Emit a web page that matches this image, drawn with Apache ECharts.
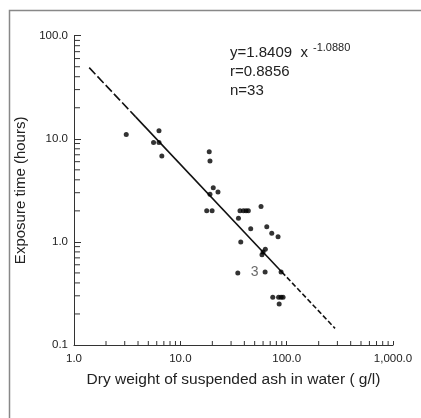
<!DOCTYPE html>
<html>
<head>
<meta charset="utf-8">
<script src="https://cdn.jsdelivr.net/npm/echarts@6/dist/echarts.min.js"></script>
<style>
html,body{margin:0;padding:0;background:#fff;overflow:hidden;}
#c{width:421px;height:418px;}
</style>
</head>
<body>
<div id="c"></div>
<script>
// Observed points: [dry weight (g/l), exposure time (hours)]
const points = [
  [3.1, 11], [5.6, 9.2], [6.3, 9.2], [6.3, 12], [6.7, 6.8],
  [18.7, 7.5], [19, 6.1], [19, 2.9], [20.4, 3.35], [22.6, 3.05],
  [17.7, 2.0], [19.9, 2.0], [34.7, 0.5], [35.2, 1.7], [37, 1.0],
  [36.4, 2.0], [39.2, 2.0], [41.5, 2.0], [43.6, 2.0], [45.9, 1.34],
  [57.4, 2.2], [65, 1.4], [72.4, 1.21], [83, 1.12],
  [63, 0.85], [60, 0.80], [58.6, 0.75],
  [62.7, 0.51], [88.6, 0.51],
  [74, 0.29], [84, 0.29], [88.6, 0.29], [92.5, 0.29], [85, 0.25]
];
// point that carries the "3" annotation (index into points)
const labelledIndex = 27;
const labelText = '3';

// Fitted line (dashed extrapolations, solid middle)
const fitUpperDashed = [[1.39, 49], [3.8, 16.3]];
const fitSolid = [[3.8, 16.3], [90, 0.511]];
const fitLowerDashed = [[90, 0.511], [285, 0.145]];

const xMinorTicks = [2,3,4,5,6,7,8,9,20,30,40,50,60,70,80,90,200,300,400,500,600,700,800,900];
const yMinorTicks = [0.2,0.3,0.4,0.5,0.6,0.7,0.8,0.9,2,3,4,5,6,7,8,9,20,30,40,50,60,70,80,90];

const eqLines = ['y=1.8409  x', 'r=0.8856', 'n=33'];
const eqExponent = '-1.0880';

const FONT = '"Liberation Sans", Arial, sans-serif';
const TXT = '#222';

const chart = echarts.init(document.getElementById('c'), null, {renderer: 'canvas'});

const scatterData = points.map((p, i) => {
  if (i === labelledIndex) {
    return {value: p, label: {show: true, position: 'left', distance: 4, formatter: labelText,
      color: '#444', fontSize: 14, fontFamily: FONT}};
  }
  return {value: p};
});

function tickSeries(vals, isX) {
  return {
    type: 'custom',
    silent: true,
    clip: false,
    data: vals.map(v => isX ? [v, 0.1] : [1, v]),
    renderItem: function (params, api) {
      const pt = api.coord([api.value(0), api.value(1)]);
      const shape = isX
        ? {x1: pt[0], y1: pt[1], x2: pt[0], y2: pt[1] - 4}
        : {x1: pt[0], y1: pt[1], x2: pt[0] + 6, y2: pt[1]};
      return {type: 'line', shape: shape, style: {stroke: '#333', lineWidth: 1}};
    },
    z: 5
  };
}

function fmtX(v) {
  return Number(v).toLocaleString('en-US', {minimumFractionDigits: 1, maximumFractionDigits: 1});
}

chart.setOption({
  animation: false,
  backgroundColor: '#fff',
  grid: {left: 74, right: 28, top: 35.7, bottom: 73},
  xAxis: {
    type: 'log', logBase: 10, min: 1, max: 1000,
    axisLine: {lineStyle: {color: '#333', width: 1}},
    axisTick: {show: true, inside: true, length: 4, lineStyle: {color: '#333'}},
    splitLine: {show: false},
    axisLabel: {formatter: fmtX, color: TXT, fontSize: 11.5, fontFamily: FONT, margin: 8},
    name: 'Dry weight of suspended ash in water ( g/l)',
    nameLocation: 'middle', nameGap: 27,
    nameTextStyle: {color: TXT, fontSize: 15.5, fontFamily: FONT}
  },
  yAxis: {
    type: 'log', logBase: 10, min: 0.1, max: 100,
    axisLine: {lineStyle: {color: '#333', width: 1}},
    axisTick: {show: true, inside: true, length: 7, lineStyle: {color: '#333'}},
    splitLine: {show: false},
    axisLabel: {formatter: v => Number(v).toFixed(1), color: TXT, fontSize: 11.5, fontFamily: FONT, margin: 6},
    name: 'Exposure time (hours)',
    nameLocation: 'middle', nameGap: 32,
    nameTextStyle: {color: TXT, fontSize: 15, fontFamily: FONT}
  },
  series: [
    {type: 'line', data: fitUpperDashed, symbol: 'none', lineStyle: {color: '#111', width: 1.6, type: [9, 3]}, z: 3},
    {type: 'line', data: fitSolid, symbol: 'none', lineStyle: {color: '#111', width: 1.6}, z: 3},
    {type: 'line', data: fitLowerDashed, symbol: 'none', lineStyle: {color: '#111', width: 1.6, type: [5, 2.5]}, z: 3},
    {type: 'scatter', data: scatterData, symbol: 'circle', symbolSize: 5, itemStyle: {color: '#000'}, z: 4},
    tickSeries(xMinorTicks, true),
    tickSeries(yMinorTicks, false)
  ],
  graphic: [
    {type: 'polyline', shape: {points: [[440, 10.5], [9.5, 10.5], [9.5, 440]]}, style: {fill: null, stroke: '#888', lineWidth: 1.5}, silent: true},
    {type: 'rect', shape: {x: 416, y: 12, width: 10, height: 420}, style: {fill: '#fff'}, silent: true, z: 100},
    {type: 'text', left: 230, top: 45, style: {text: eqLines[0], fill: TXT, font: '15px ' + FONT}},
    {type: 'text', left: 313, top: 42, style: {text: eqExponent, fill: TXT, font: '11px ' + FONT}},
    {type: 'text', left: 230, top: 64, style: {text: eqLines[1], fill: TXT, font: '15px ' + FONT}},
    {type: 'text', left: 230, top: 83, style: {text: eqLines[2], fill: TXT, font: '15px ' + FONT}}
  ]
});
</script>
</body>
</html>
